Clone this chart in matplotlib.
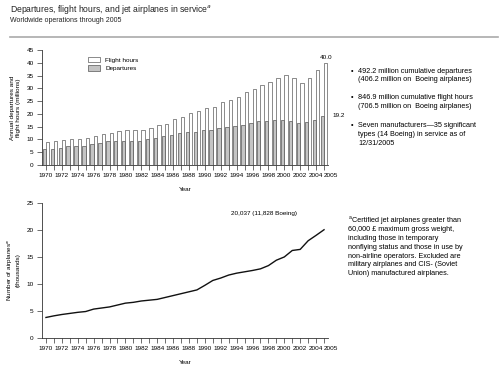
import numpy as np
import matplotlib
matplotlib.use('Agg')
import matplotlib.pyplot as plt


years       = np.arange(1970, 2006)
departures  = [6.3, 6.3, 6.6, 7.6, 7.6, 7.6, 8.3, 8.5, 9.3, 9.5, 9.5, 9.5,
               9.5, 10.0, 10.5, 11.2, 11.6, 12.4, 12.8, 13.1, 13.5, 13.5, 14.5, 14.9,
               15.2, 15.7, 16.5, 17.1, 17.3, 17.8, 17.8, 17.3, 16.5, 16.8, 17.6, 19.2]
flighthours = [8.8, 9.2, 9.6, 10.2, 10.2, 10.7, 11.2, 12.0, 12.7, 13.3, 13.7, 13.7,
               13.7, 14.5, 15.5, 16.0, 18.0, 18.7, 20.2, 21.2, 22.3, 22.7, 24.5, 25.5,
               26.8, 28.4, 29.9, 31.3, 32.6, 34.0, 35.4, 34.0, 32.0, 34.0, 37.2, 40.0]
airplanes   = [3.8, 4.1, 4.35, 4.55, 4.75, 4.9, 5.35, 5.55, 5.75, 6.1, 6.45, 6.6,
               6.85, 7.0, 7.15, 7.5, 7.85, 8.2, 8.55, 8.9, 9.75, 10.65, 11.1, 11.65,
               12.0, 12.25, 12.5, 12.8, 13.4, 14.4, 15.0, 16.2, 16.4, 18.0, 19.0, 20.04]
ticklabels  = [str(y) for y in range(1970, 2005, 2)] + ['2005']
tickyears   = list(range(1970, 2005, 2)) + [2005]

bullets = ['492.2 million cumulative departures\n(406.2 million on  Boeing airplanes)',
           '846.9 million cumulative flight hours\n(706.5 million on  Boeing airplanes)',
           'Seven manufacturers\u201435 significant\ntypes (14 Boeing) in service as of\n12/31/2005']
foot_first = 'Certified jet airplanes greater than'
foot_rest  = ('60,000 \u00a3 maximum gross weight,\n'
              'including those in temporary\nnonflying status and those in use by\n'
              'non-airline operators. Excluded are\nmilitary airplanes and CIS- (Soviet\n'
              'Union) manufactured airplanes.')

plt.rcParams['font.family'] = ['Liberation Sans', 'DejaVu Sans']
fs = 4.6


def style_axis(ax, ymax):
	for s in ['top', 'right']:
		ax.spines[s].set_visible(False)
	for s in ['left', 'bottom']:
		ax.spines[s].set_linewidth(0.6)
		ax.spines[s].set_color('#333333')
	ax.set_xlim(1969.5, 2005.5)
	ax.set_ylim(0, ymax)
	ax.set_yticks(np.arange(0, ymax + 1, 5))
	ax.set_xticks(tickyears)
	ax.set_xticklabels(ticklabels)
	ax.set_xticks(years, minor=True)
	ax.tick_params(which='both', direction='out', length=3.5, width=0.5,
	               labelsize=fs, color='#333333', pad=2.5)
	lbl = ax.get_xticklabels()[-1]
	lbl.set_horizontalalignment('left')
	lbl.set_x(2004.75)
	ax.set_xlabel('Year', fontsize=fs, labelpad=6)


fig = plt.figure(figsize=(5, 3.65), dpi=100)

# header
fig.text(0.02, 0.975, 'Departures, flight hours, and jet airplanes in service$^a$',
         fontsize=6.2, va='center', color='#222222')
fig.text(0.02, 0.945, 'Worldwide operations through 2005', fontsize=5, va='center',
         color='#222222')
fig.add_artist(plt.Line2D([0.02, 0.996], [0.898, 0.898], color='#aaaaaa', lw=1.2))

# top: departures and flight hours
ax1 = fig.add_axes([0.084, 0.548, 0.572, 0.315])
w = 0.42
ax1.bar(years - w / 2, departures, width=w, color='#c4c4c4', edgecolor='#333333',
        linewidth=0.4, label='Departures')
ax1.bar(years + w / 2, flighthours, width=w, color='white', edgecolor='#333333',
        linewidth=0.4, label='Flight hours')
style_axis(ax1, 45)
ax1.set_ylabel('Annual departures and\nflight hours (millions)', fontsize=fs, labelpad=4)
h, l = ax1.get_legend_handles_labels()
ax1.legend(h[::-1], l[::-1], loc='upper left', bbox_to_anchor=(0.14, 0.99), frameon=False,
           fontsize=fs, handlelength=1.9, handleheight=0.9, labelspacing=0.4)
ax1.annotate('%.1f' % flighthours[-1], (years[-1] + w / 2, flighthours[-1]),
             xytext=(0, 2), textcoords='offset points', ha='center', va='bottom', fontsize=fs)
ax1.annotate('%.1f' % departures[-1], (years[-1] + w, departures[-1]),
             xytext=(4, 0), textcoords='offset points', ha='left', va='center', fontsize=fs)

# bottom: airplanes in service
ax2 = fig.add_axes([0.084, 0.074, 0.572, 0.37])
ax2.plot(years, airplanes, color='#111111', lw=1.0)
style_axis(ax2, 25)
ax2.set_ylabel('Number of airplanes$^a$\n(thousands)', fontsize=fs, labelpad=4)
ax2.text(1997.5, 23.1, '20,037 (11,828 Boeing)', fontsize=fs, ha='center', va='center')

# side texts
ys = [0.815, 0.742, 0.665]
for y, t in zip(ys, bullets):
	fig.text(0.702, y, '\u2022', fontsize=fs + 0.6, va='top')
	fig.text(0.716, y, t, fontsize=fs + 0.6, va='top', linespacing=1.35)
fig.text(0.697, 0.41, 'a', fontsize=3.6, va='top')
fig.text(0.705, 0.405, foot_first, fontsize=fs + 0.6, va='top')
fig.text(0.697, 0.38, foot_rest, fontsize=fs + 0.6, va='top', linespacing=1.35)

fig.savefig('out.png', dpi=100)
